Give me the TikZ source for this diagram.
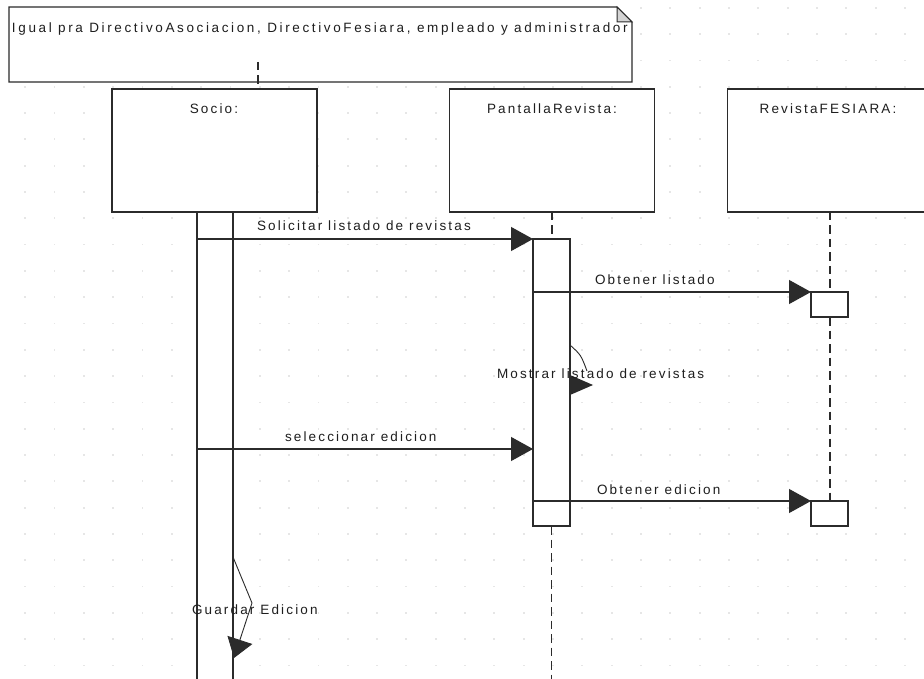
\documentclass[tikz,border=0pt]{standalone}
\usepackage{fontspec}
\newfontfamily\umlfont[LetterSpace=16]{Liberation Sans}
\newfontfamily\notefont[LetterSpace=19.5]{Liberation Sans}
\usetikzlibrary{arrows.meta}
\definecolor{ink}{HTML}{2B2B2B}
\definecolor{textc}{HTML}{1E1E1E}
\definecolor{gridc}{HTML}{E6E6E6}
\definecolor{foldc}{HTML}{D4D4D4}
\begin{document}
\begin{tikzpicture}[x=1pt,y=-1pt,
  every node/.style={inner sep=0pt, outer sep=0pt},
  line/.style={draw=ink, line width=1.4pt},
  lifebox/.style={line, fill=white, rectangle, minimum width=205pt, minimum height=123pt},
  actbox/.style={line, fill=white, rectangle, minimum width=37pt},
  lifeline/.style={draw=ink, line width=1.4pt, dash pattern=on 8.5pt off 5pt},
  msg/.style={draw=ink, line width=1.2pt, -{Triangle[length=22pt,width=24pt]}},
  selfmsg/.style={draw=ink, line width=0.9pt},
  tipfill/.style={fill=ink},
  txt/.style={font=\umlfont\fontsize{13.5}{15}\selectfont, text=textc, anchor=base west},
  head/.style={txt, anchor=base},
  notetxt/.style={font=\notefont\fontsize{13.5}{15}\selectfont, text=textc, anchor=base west},
]
% canvas
\useasboundingbox (0,0) rectangle (924,679);
\clip (0,0) rectangle (924,679);
\fill[white] (0,0) rectangle (924,679);

% dotted background grid
\foreach \i in {0,...,31}
  \foreach \j in {0,...,25}
    \fill[gridc] ({24.2+29.33*\i},{7+26.3*\j}) rectangle +(1.8,1.8);

% note with folded corner
\path[line, fill=white] (9,7) -- (617,7) -- (632,22) -- (632,82) -- (9,82) -- cycle;
\path[line, fill=foldc, line width=1pt] (617,7) -- (617,22) -- (632,22) -- cycle;
\node[notetxt] (notetext) at (12,33) {Igual pra DirectivoAsociacion, DirectivoFesiara, empleado y administrador};
\coordinate (notelink) at (258,62);

% lifeline heads
\node[lifebox] (socio) at (214.5,150.5) {};
\node[lifebox] (pant) at (552,150.5) {};
\node[lifebox] (rev) at (830,150.5) {};
\node[head] (sociolbl) at (214,114) {Socio:};
\node[head] (pantlbl) at (552,114) {PantallaRevista:};
\node[head] (revlbl) at (828,114) {RevistaFESIARA:};

% note link
\draw[lifeline] (notelink) -- (notelink |- socio.north);

% activations
\coordinate (bottom) at (0,679);
\node[actbox, minimum width=36pt, minimum height=488pt] (socioAct) at (215,456) {};
\node[actbox, minimum height=287pt] (pantAct) at (551.5,382.5) {};
\node[actbox, minimum height=25pt] (revAct1) at (829.5,304.5) {};
\node[actbox, minimum height=25pt] (revAct2) at (829.5,513.5) {};

% lifelines
\draw[lifeline] (pant.south) -- (pantAct.north -| pant.south);
\draw[lifeline] (pantAct.south) -- (pantAct.south |- bottom);
\draw[lifeline] (rev.south) -- (revAct1.north -| rev.south);
\draw[lifeline] (revAct1.south -| rev.south) -- (revAct2.north -| rev.south);
\draw[lifeline] (revAct2.south -| rev.south) -- (revAct2.south -| rev.south |- bottom);

% messages
\coordinate (sel) at (533,449);
\draw[msg] (socioAct.west |- pantAct.north) -- (pantAct.north west);
\node[txt] (m1) at (257,231) {Solicitar listado de revistas};

\draw[msg] (pantAct.west |- revAct1.north) -- (revAct1.north west);
\node[txt] (m2) at (595,284) {Obtener listado};

\coordinate (m3a) at (570,345);
\coordinate (m3b) at (587,371);
\draw[selfmsg] (m3a) .. controls (581,355) .. (m3b);
\fill[tipfill] (570,375) -- (593,385) -- (570,395) -- cycle;
\node[txt] (m3) at (497,378) {Mostrar listado de revistas};

\draw[msg] (socioAct.west |- sel) -- (sel);
\node[txt] (m4) at (285,441) {seleccionar edicion};

\draw[msg] (pantAct.west |- revAct2.north) -- (revAct2.north west);
\node[txt] (m5) at (597,494) {Obtener edicion};

\coordinate (g1) at (233,557);
\coordinate (g2) at (252,603);
\coordinate (g3) at (234,658);
\draw[selfmsg, -{Triangle[length=19pt,width=26pt]}] (g1) -- (g2) -- (g3);
\node[txt] (m6) at (192,614) {Guardar Edicion};
\end{tikzpicture}
\end{document}
